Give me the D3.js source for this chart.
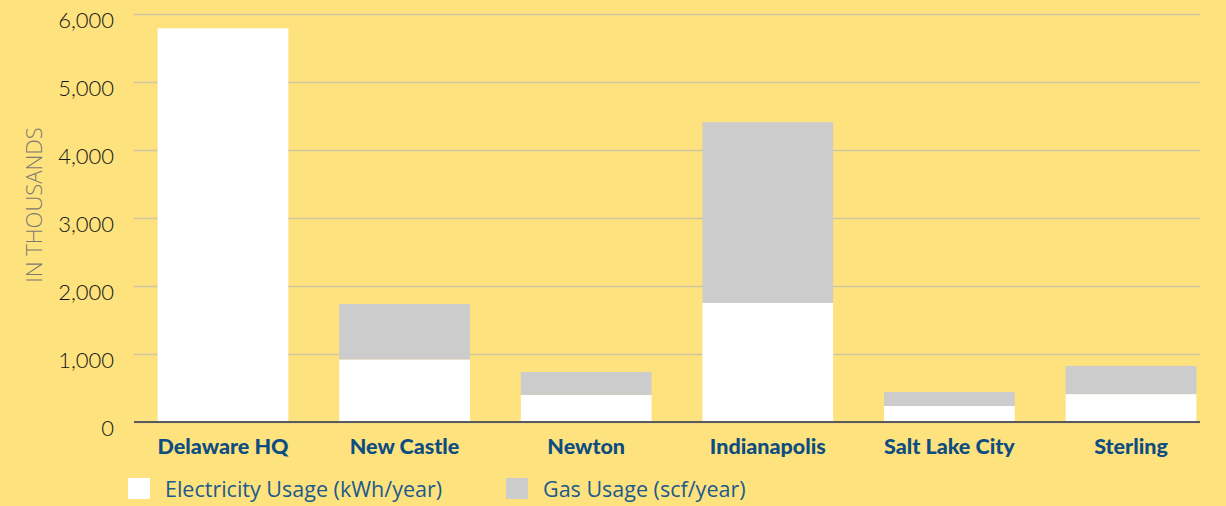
<!DOCTYPE html>
<html>
<head>
<meta charset="utf-8">
<script src="https://cdn.jsdelivr.net/npm/d3@7"></script>
<style>
  body { margin: 0; background: #FEE27E; }
  svg { display: block; font-family: "Open Sans", "Lato", sans-serif; }
</style>
</head>
<body>
<div id="container"></div>
<script>
/* CONSTANTS AND GLOBALS */
const width = 1226;
const height = 506;

/* DATA */
const sites = ["Delaware HQ", "New Castle", "Newton", "Indianapolis", "Salt Lake City", "Sterling"];
const electricity = [5790, 920, 400, 1750, 235, 410];
const gas = [0, 815, 335, 2660, 205, 415];
const yTicks = [0, 1000, 2000, 3000, 4000, 5000, 6000];
const seriesNames = ["Electricity Usage (kWh/year)", "Gas Usage (scf/year)"];
const seriesKeys = ["electricity", "gas"];
const seriesColors = ["#FFFFFF", "#CCCCCC"];

const data = sites.map((s, i) => ({ site: s, electricity: electricity[i], gas: gas[i] }));

/* SCALES */
const xScale = d3.scaleBand()
  .domain(sites)
  .range([134, 1220])
  .paddingInner(0.28)
  .paddingOuter(0.13);

const yScale = d3.scaleLinear()
  .domain([0, 6000])
  .range([422, 14]);

const color = d3.scaleOrdinal().domain(seriesKeys).range(seriesColors);

const stacked = d3.stack().keys(seriesKeys)(data);

/* HTML ELEMENTS */
const svg = d3.select("#container")
  .append("svg")
  .attr("width", width)
  .attr("height", height);

// gridlines + y labels
const yAxis = d3.axisLeft(yScale)
  .tickValues(yTicks)
  .tickSize(-(1200 - 134))
  .tickFormat(d3.format(","));

const gy = svg.append("g")
  .attr("transform", "translate(134,0)")
  .call(yAxis);
gy.select(".domain").remove();
gy.selectAll(".tick line")
  .attr("stroke", "#CFC6A0")
  .attr("stroke-width", 1.5);
gy.selectAll(".tick text")
  .attr("x", -20)
  .attr("dy", "0.6em")
  .attr("fill", "#151515")
  .attr("font-family", "Lato, sans-serif")
  .attr("font-size", 22)
  .attr("font-weight", 300);

// y title
svg.append("text")
  .attr("transform", "translate(42,205) rotate(-90)")
  .attr("text-anchor", "middle")
  .attr("fill", "#7E7B70")
  .attr("font-size", 22)
  .attr("font-weight", 300)
  .text("IN THOUSANDS");

// bars
svg.append("g")
  .selectAll("g")
  .data(stacked)
  .join("g")
  .attr("fill", d => color(d.key))
  .selectAll("rect")
  .data(d => d)
  .join("rect")
  .attr("x", d => xScale(d.data.site))
  .attr("y", d => yScale(d[1]))
  .attr("height", d => yScale(d[0]) - yScale(d[1]))
  .attr("width", xScale.bandwidth());

// x axis
const xAxis = d3.axisBottom(xScale).tickSize(0).tickPadding(17);
const gx = svg.append("g")
  .attr("transform", "translate(0,422)")
  .call(xAxis);
gx.select(".domain")
  .attr("d", "M134,0H1200")
  .attr("stroke", "#5A5A5A")
  .attr("stroke-width", 2);
gx.selectAll(".tick text")
  .attr("fill", "#0E4D80")
  .attr("font-family", "Lato, sans-serif")
  .attr("font-size", 21.5)
  .attr("font-weight", 900);

// legend
const legendX = [128, 506];
const legend = svg.append("g")
  .selectAll("g")
  .data(seriesKeys)
  .join("g")
  .attr("transform", (d, i) => `translate(${legendX[i]},478)`);
legend.append("rect")
  .attr("width", 22)
  .attr("height", 21)
  .attr("fill", d => color(d));
legend.append("text")
  .attr("x", 37)
  .attr("y", 11)
  .attr("dy", "0.35em")
  .attr("fill", "#1C5A8C")
  .attr("font-size", 21.5)
  .text((d, i) => seriesNames[i]);
</script>
</body>
</html>
